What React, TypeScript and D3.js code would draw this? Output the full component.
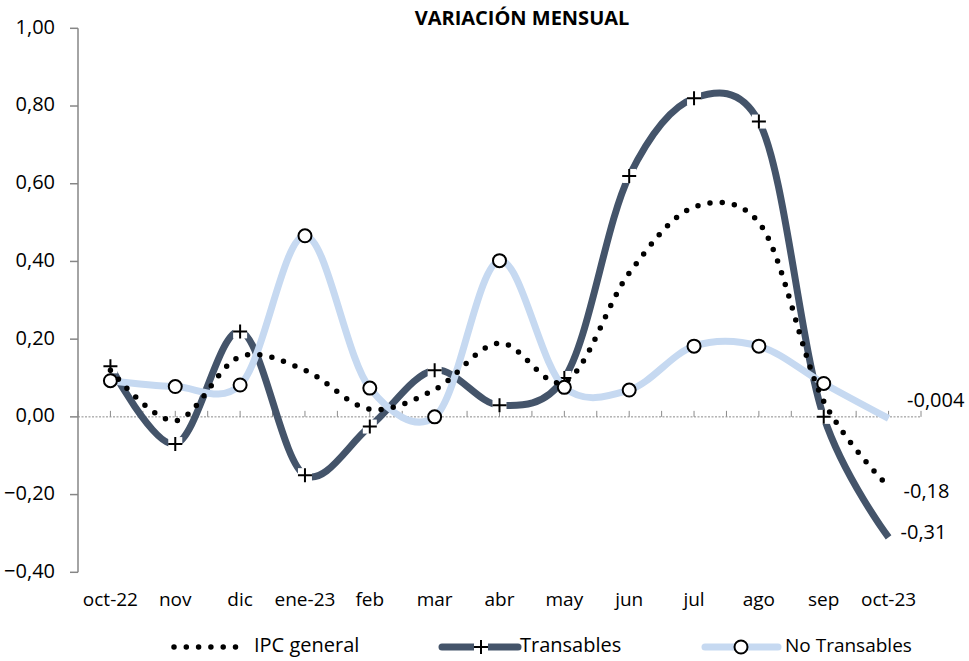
import React from 'react';
import * as d3 from 'd3';

const months = ['oct-22', 'nov', 'dic', 'ene-23', 'feb', 'mar', 'abr', 'may', 'jun', 'jul', 'ago', 'sep', 'oct-23'];
const ipcGeneral = [0.12, -0.01, 0.155, 0.12, 0.02, 0.07, 0.19, 0.09, 0.37, 0.54, 0.5, 0.04, -0.18];
const transables = [0.13, -0.07, 0.22, -0.15, -0.025, 0.12, 0.03, 0.1, 0.62, 0.82, 0.76, 0.0, -0.31];
const noTransables = [0.093, 0.078, 0.082, 0.466, 0.074, 0.0, 0.402, 0.076, 0.069, 0.182, 0.182, 0.086, -0.004];
const yTicks = [-0.4, -0.2, 0, 0.2, 0.4, 0.6, 0.8, 1.0];
const endLabels = ['-0,18', '-0,31', '-0,004'];

const W = 969, H = 661;
const DARK = '#44546A', LIGHT = '#C6D9F1';
const FONT = '"Open Sans", "Liberation Sans", sans-serif';

export default function App() {
  const x = d3.scaleBand<string>().domain(months).range([78, 921]).padding(0);
  const cx = (m: string) => (x(m) as number) + x.bandwidth() / 2;
  const y = d3.scaleLinear().domain([-0.4, 1.0]).range([572.3, 28.3]);
  const fmt = (v: number) => d3.format('.2f')(v).replace('.', ',');

  const line = d3.line<number>()
    .x((_, i) => cx(months[i]))
    .y(d => y(d))
    .curve(d3.curveCatmullRom.alpha(0.2));

  const lastX = cx(months[months.length - 1]);
  // label offsets relative to the last point of each series
  const labelPos = [
    { v: ipcGeneral[12], dx: 15, dy: 6 },
    { v: transables[12], dx: 12, dy: -4 },
    { v: noTransables[12], dx: 18.5, dy: -17 },
  ];

  // ticks on zero line: at category centres and boundaries
  const zeroTicks: number[] = [];
  months.forEach(m => { zeroTicks.push(x(m) as number); zeroTicks.push(cx(m)); });
  zeroTicks.push(921);

  const plus = (px: number, py: number, key: string) => (
    <g key={key}>
      <rect x={px - 7} y={py - 7} width={14} height={14} fill="#fff" />
      <path d={`M${px - 7},${py}H${px + 7}M${px},${py - 7}V${py + 7}`} stroke="#000" strokeWidth={2} />
    </g>
  );
  const circ = (px: number, py: number, key: string) => (
    <circle key={key} cx={px} cy={py} r={6.5} fill="#fff" stroke="#000" strokeWidth={2} />
  );

  const legendY = 647;

  return (
    <svg width={W} height={H} style={{ position: 'absolute', left: 0, top: 0, background: '#fff' }} fontFamily={FONT}>
      <rect width={W} height={H} fill="#fff" />
      <text x={522} y={20} textAnchor="middle" dominantBaseline="middle" fontWeight="bold" fontSize={20}>
        VARIACIÓN MENSUAL
      </text>

      {/* y axis */}
      <line x1={78} x2={78} y1={y(1)} y2={y(-0.4)} stroke="#868686" strokeWidth={1.5} />
      {yTicks.map(t => (
        <g key={t}>
          <line x1={70} x2={78} y1={y(t)} y2={y(t)} stroke="#868686" strokeWidth={1.5} />
          <text x={55} y={y(t)} textAnchor="end" dominantBaseline="middle" fontSize={20}>{fmt(t)}</text>
        </g>
      ))}

      {/* zero line */}
      <line x1={78} x2={921} y1={y(0)} y2={y(0)} stroke="#8c8c8c" strokeWidth={1} strokeDasharray="2,1.5" />
      {zeroTicks.map((t, i) => (
        <line key={i} x1={t} x2={t} y1={y(0) - 6} y2={y(0)} stroke="#8c8c8c" strokeWidth={1} />
      ))}

      {/* x labels */}
      {months.map(m => (
        <text key={m} x={cx(m)} y={601} textAnchor="middle" dominantBaseline="middle" fontSize={19}>{m}</text>
      ))}

      {/* series */}
      <path d={line(transables) as string} fill="none" stroke={DARK} strokeWidth={7} />
      {transables.slice(0, 12).map((v, i) => plus(cx(months[i]), y(v), 't' + i))}
      <path d={line(noTransables) as string} fill="none" stroke={LIGHT} strokeWidth={7} />
      {noTransables.slice(0, 12).map((v, i) => circ(cx(months[i]), y(v), 'n' + i))}
      <path d={line(ipcGeneral) as string} fill="none" stroke="#000" strokeWidth={5.5}
        strokeDasharray="0 12.3" strokeLinecap="round" />

      {/* end labels */}
      {labelPos.map((p, i) => (
        <text key={i} x={lastX + p.dx} y={y(p.v) + p.dy} dominantBaseline="middle" fontSize={20}>{endLabels[i]}</text>
      ))}

      {/* legend */}
      <line x1={174} x2={238} y1={legendY} y2={legendY} stroke="#000" strokeWidth={5.5} strokeDasharray="0 12.3" strokeLinecap="round" />
      <text x={254} y={legendY} dominantBaseline="middle" fontSize={20}>IPC general</text>
      <line x1={442} x2={518} y1={legendY} y2={legendY} stroke={DARK} strokeWidth={7} strokeLinecap="round" />
      {plus(481, legendY, 'lp')}
      <text x={520} y={legendY} dominantBaseline="middle" fontSize={20}>Transables</text>
      <line x1={705} x2={778} y1={legendY} y2={legendY} stroke={LIGHT} strokeWidth={7} strokeLinecap="round" />
      {circ(741, legendY, 'lc')}
      <text x={785} y={legendY} dominantBaseline="middle" fontSize={19}>No Transables</text>
    </svg>
  );
}
